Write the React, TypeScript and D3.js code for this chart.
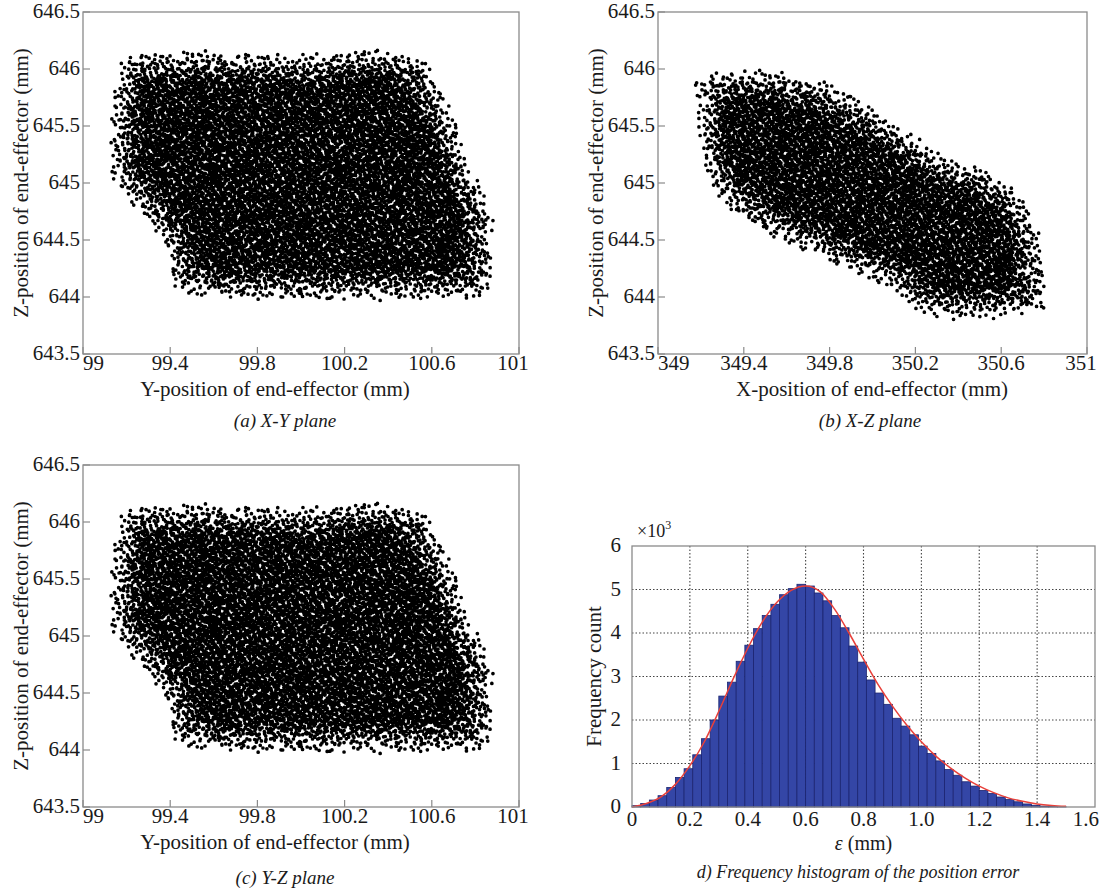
import React, { useMemo } from 'react';
import * as d3 from 'd3';

const FONT = '"Liberation Serif", "Times New Roman", Times, serif';

// ---------- Panels (a) and (c): Y-Z cloud (same data in both) ----------
const yTicks = [99, 99.4, 99.8, 100.2, 100.6, 101];
const zTicks = [643.5, 644, 644.5, 645, 645.5, 646, 646.5];
// outline of the cloud (Y, Z)
const yzHull: [number, number][] = [
  [99.2, 646.12], [99.55, 646.16], [100.0, 646.12], [100.35, 646.18], [100.58, 646.08],
  [100.62, 645.9], [100.72, 645.5], [100.8, 645.05], [100.88, 644.75], [100.88, 644.4],
  [100.86, 643.99], [100.5, 643.97], [100.0, 643.98], [99.6, 643.99], [99.45, 644.03],
  [99.41, 644.12], [99.37, 644.45], [99.25, 644.75], [99.12, 645.1], [99.13, 645.6], [99.16, 646.0],
];

// ---------- Panel (b): X-Z cloud ----------
const xTicksB = [349, 349.4, 349.8, 350.2, 350.6, 351];
const xzHull: [number, number][] = [
  [349.165, 645.89], [349.24, 645.96], [349.38, 645.99], [349.54, 645.99], [349.61, 645.96],
  [349.79, 645.88], [349.92, 645.75], [350.06, 645.59], [350.19, 645.42], [350.32, 645.26],
  [350.45, 645.16], [350.56, 645.09], [350.66, 644.97], [350.74, 644.75], [350.79, 644.48],
  [350.81, 643.9], [350.7, 643.85], [350.55, 643.81], [350.34, 643.81], [350.21, 643.88],
  [350.13, 644.0], [350.0, 644.16], [349.84, 644.26], [349.73, 644.37], [349.64, 644.42],
  [349.48, 644.57], [349.34, 644.75], [349.25, 644.95], [349.2, 645.19], [349.18, 645.45], [349.19, 645.72],
];

// ---------- Panel (d): histogram (counts ×10³), bins of 0.03 mm from 0 ----------
const binStart = 0;
const binWidth = 0.03;
const histCounts = [
  0.03, 0.08, 0.16, 0.26, 0.45, 0.68, 0.88, 1.2, 1.57, 2.0,
  2.55, 2.87, 3.35, 3.72, 4.1, 4.4, 4.66, 4.88, 5.02, 5.12,
  5.08, 4.92, 4.74, 4.4, 4.12, 3.7, 3.33, 2.92, 2.62, 2.36,
  2.04, 1.86, 1.66, 1.4, 1.23, 1.06, 0.86, 0.73, 0.58, 0.48,
  0.38, 0.31, 0.23, 0.17, 0.12, 0.07, 0.04, 0.02, 0.01, 0.005,
];
const fitX = [0, 0.05, 0.1, 0.15, 0.2, 0.25, 0.3, 0.35, 0.4, 0.45, 0.5, 0.55, 0.6, 0.65, 0.7, 0.75,
  0.8, 0.85, 0.9, 0.95, 1.0, 1.05, 1.1, 1.15, 1.2, 1.25, 1.3, 1.35, 1.4, 1.45, 1.5];
const fitY = [0, 0.08, 0.23, 0.52, 0.95, 1.5, 2.2, 2.95, 3.65, 4.25, 4.7, 4.98, 5.08, 4.95, 4.55, 4.0,
  3.4, 2.82, 2.32, 1.88, 1.5, 1.17, 0.9, 0.67, 0.48, 0.33, 0.21, 0.13, 0.07, 0.035, 0.015];
const histXTicks = [0, 0.2, 0.4, 0.6, 0.8, 1.0, 1.2, 1.4, 1.6];
const histXLabels = ['0', '0.2', '0.4', '0.6', '0.8', '1.0', '1.2', '1.4', '1.6'];
const histYTicks = [0, 1, 2, 3, 4, 5, 6];

// ---------- helpers ----------
function halton(i: number, b: number) {
  let f = 1, r = 0, n = i;
  while (n > 0) { f /= b; r += f * (n % b); n = Math.floor(n / b); }
  return r;
}
function segDist(px: number, py: number, ax: number, ay: number, bx: number, by: number) {
  const dx = bx - ax, dy = by - ay;
  const l2 = dx * dx + dy * dy;
  let t = l2 > 0 ? ((px - ax) * dx + (py - ay) * dy) / l2 : 0;
  t = Math.max(0, Math.min(1, t));
  const qx = ax + t * dx - px, qy = ay + t * dy - py;
  return Math.sqrt(qx * qx + qy * qy);
}
// low-discrepancy dot fill of the read outline (pixel space), thinner near the outline
function fillCloud(polyPx: [number, number][], density: number, ramp: number) {
  const xs = polyPx.map(p => p[0]);
  const ys = polyPx.map(p => p[1]);
  const x0 = d3.min(xs)!, x1 = d3.max(xs)!, y0 = d3.min(ys)!, y1 = d3.max(ys)!;
  const target = Math.round(Math.abs(d3.polygonArea(polyPx)) * density);
  const out: [number, number][] = [];
  let inside = 0, i = 1;
  while (inside < target && i < target * 10) {
    const p: [number, number] = [x0 + halton(i, 2) * (x1 - x0), y0 + halton(i, 3) * (y1 - y0)];
    if (d3.polygonContains(polyPx, p)) {
      inside++;
      let dmin = Infinity;
      for (let k = 0; k < polyPx.length; k++) {
        const a = polyPx[k], b = polyPx[(k + 1) % polyPx.length];
        dmin = Math.min(dmin, segDist(p[0], p[1], a[0], a[1], b[0], b[1]));
      }
      const prob = Math.min(1, 0.1 + Math.pow(dmin / ramp, 1.3));
      if (halton(i, 5) < prob) {
        out.push([p[0] + (halton(i, 7) - 0.5) * 3, p[1] + (halton(i, 11) - 0.5) * 3]);
      }
    }
    i++;
  }
  return out;
}

const FRAME = '#8a8a8a';
const TEXT = '#1a1a1a';
const FS = 21;

type Box = { left: number; right: number; top: number; bottom: number };

function ScatterPanel(props: {
  box: Box; xDomain: [number, number]; xTicks: number[]; hull: [number, number][];
  xTitle: string; xTitleX: number; yTitleX: number; caption: string;
  captionX: number; captionY: number;
}) {
  const { box } = props;
  const x = d3.scaleLinear().domain(props.xDomain).range([box.left, box.right]);
  const y = d3.scaleLinear().domain([643.5, 646.5]).range([box.bottom, box.top]);
  const d = useMemo(() => {
    const polyPx = props.hull.map(p => [x(p[0]), y(p[1])] as [number, number]);
    const pts = fillCloud(polyPx, 0.19, 36);
    const r = 1.85;
    return pts.map(p =>
      `M${(p[0] - r).toFixed(1)},${p[1].toFixed(1)}a${r},${r} 0 1,0 ${2 * r},0a${r},${r} 0 1,0 ${-2 * r},0`
    ).join('');
  }, []);
  const nT = props.xTicks.length;
  return (
    <g fontFamily={FONT} fill={TEXT}>
      <path d={d} fill="#000" />
      <rect x={box.left} y={box.top} width={box.right - box.left} height={box.bottom - box.top}
        fill="none" stroke={FRAME} strokeWidth={1.3} />
      {props.xTicks.map((t, i) => (
        <g key={'x' + t}>
          <line x1={x(t)} x2={x(t)} y1={box.bottom} y2={box.bottom - 7} stroke={FRAME} strokeWidth={1.2} />
          <text x={i === 0 ? box.left : i === nT - 1 ? x(t) - 6 : x(t)} y={box.bottom + 16}
            textAnchor={i === 0 ? 'start' : 'middle'} fontSize={FS}>{String(t)}</text>
        </g>
      ))}
      {zTicks.map(t => (
        <g key={'y' + t}>
          <line x1={box.left} x2={box.left + 7} y1={y(t)} y2={y(t)} stroke={FRAME} strokeWidth={1.2} />
          <text x={box.left - 3} y={y(t)} dy="0.3em" textAnchor="end" fontSize={FS}>{String(t)}</text>
        </g>
      ))}
      <text x={props.xTitleX} y={box.bottom + 42} textAnchor="middle" fontSize={FS}>{props.xTitle}</text>
      <text transform={`translate(${props.yTitleX},${(box.top + box.bottom) / 2}) rotate(-90)`} dy="0.35em"
        textAnchor="middle" fontSize={FS}>Z-position of end-effector (mm)</text>
      <text x={props.captionX} y={props.captionY} textAnchor="middle" fontSize={19} fontStyle="italic">{props.caption}</text>
    </g>
  );
}

function HistPanel() {
  const box: Box = { left: 632, right: 1095, top: 546, bottom: 807 };
  const x = d3.scaleLinear().domain([0, 1.6]).range([box.left, box.right]);
  const y = d3.scaleLinear().domain([0, 6]).range([box.bottom, box.top]);
  const line = d3.line<number>().x((_, i) => x(fitX[i])).y(v => y(v)).curve(d3.curveMonotoneX);
  return (
    <g fontFamily={FONT} fill={TEXT}>
      {histXTicks.slice(1, -1).map(t => (
        <line key={'gx' + t} x1={x(t)} x2={x(t)} y1={box.top} y2={box.bottom} stroke="#444" strokeWidth={1.1} strokeDasharray="1.5,2" />
      ))}
      {histYTicks.slice(1, -1).map(t => (
        <line key={'gy' + t} x1={box.left} x2={box.right} y1={y(t)} y2={y(t)} stroke="#444" strokeWidth={1.1} strokeDasharray="1.5,2" />
      ))}
      {histCounts.map((v, i) => {
        const x0 = x(binStart + i * binWidth), x1 = x(binStart + (i + 1) * binWidth);
        return <rect key={'b' + i} x={x0} y={y(v)} width={x1 - x0} height={y(0) - y(v)}
          fill="#3446a6" stroke="#1b2470" strokeWidth={0.8} />;
      })}
      <path d={line(fitY) || ''} fill="none" stroke="#e8403a" strokeWidth={1.5} />
      <rect x={box.left} y={box.top} width={box.right - box.left} height={box.bottom - box.top}
        fill="none" stroke={FRAME} strokeWidth={1.3} />
      {histXTicks.map((t, i) => (
        <text key={'xl' + t} x={i === histXTicks.length - 1 ? box.right + 4 : x(t)} y={box.bottom + 19}
          textAnchor={i === histXTicks.length - 1 ? 'end' : 'middle'} fontSize={FS}>{histXLabels[i]}</text>
      ))}
      {histYTicks.map(t => (
        <text key={'yl' + t} x={box.left - 11} y={y(t)} dy="0.3em" textAnchor="end" fontSize={FS}>{String(t)}</text>
      ))}
      <text x={637} y={537} fontSize={18}>×10<tspan dy={-8} fontSize={12}>3</tspan></text>
      <text x={(box.left + box.right) / 2} y={box.bottom + 43} textAnchor="middle" fontSize={20}>
        <tspan fontStyle="italic">ε</tspan> (mm)
      </text>
      <text transform={`translate(594,${(box.top + box.bottom) / 2}) rotate(-90)`} dy="0.35em" textAnchor="middle" fontSize={FS}>Frequency count</text>
      <text x={858} y={878} textAnchor="middle" fontSize={18} fontStyle="italic">d) Frequency histogram of the position error</text>
    </g>
  );
}

export default function App() {
  return (
    <svg width={1104} height={895} style={{ position: 'absolute', left: 0, top: 0, background: '#fff' }}>
      <rect width={1104} height={895} fill="#fff" />
      <ScatterPanel box={{ left: 83, right: 519, top: 12, bottom: 354 }} xDomain={[99, 101]} xTicks={yTicks}
        hull={yzHull} xTitle="Y-position of end-effector (mm)" xTitleX={275} yTitleX={21}
        caption="(a) X-Y plane" captionX={285} captionY={427} />
      <ScatterPanel box={{ left: 658, right: 1087, top: 12, bottom: 354 }} xDomain={[349, 351]} xTicks={xTicksB}
        hull={xzHull} xTitle="X-position of end-effector (mm)" xTitleX={872} yTitleX={596}
        caption="(b) X-Z plane" captionX={870} captionY={427} />
      <ScatterPanel box={{ left: 83, right: 519, top: 465, bottom: 807 }} xDomain={[99, 101]} xTicks={yTicks}
        hull={yzHull} xTitle="Y-position of end-effector (mm)" xTitleX={275} yTitleX={21}
        caption="(c) Y-Z plane" captionX={285} captionY={884} />
      <HistPanel />
    </svg>
  );
}
